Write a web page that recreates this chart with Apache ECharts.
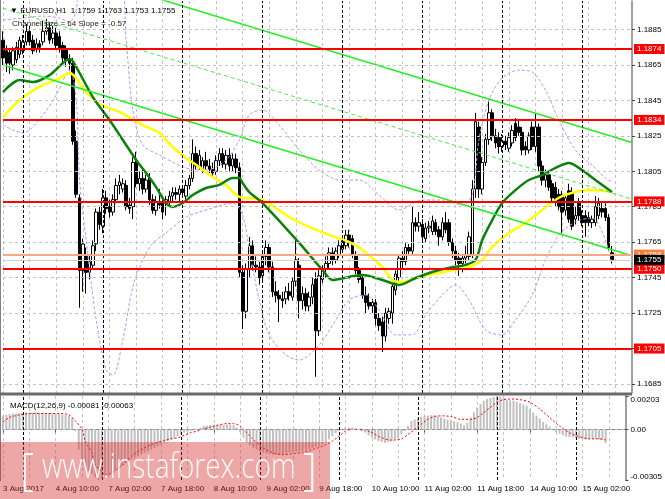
<!DOCTYPE html>
<html><head><meta charset="utf-8">
<script src="https://cdn.jsdelivr.net/npm/echarts@6/dist/echarts.min.js"></script>
<style>html,body{margin:0;padding:0;background:#fff}#c{width:665px;height:499px}</style>
</head><body><div id="c"></div>
<script>
// ---------------- data ----------------
const symbolInfo = '\u25BC EURUSD,H1  1.1759 1.1763 1.1753 1.1755';
const channelInfo = 'Channel size = 64 Slope = -0.57';
const macdInfo = 'MACD(12,26,9) -0.00081 -0.00063';
const timeLabels = ['3 Aug 2017','4 Aug 10:00','7 Aug 02:00','7 Aug 18:00','8 Aug 10:00','9 Aug 02:00','9 Aug 18:00','10 Aug 10:00','11 Aug 02:00','11 Aug 18:00','14 Aug 10:00','15 Aug 02:00'];
const priceTicks = [1.1885,1.1865,1.1845,1.1825,1.1805,1.1785,1.1765,1.1745,1.1725,1.1705,1.1685];
const macdTicks = [0.00203,0,-0.00305];
const daySeparators = [6,30,54,78,102,126,150,174];
const redLevels = [1.1874,1.1834,1.1788,1.1750,1.1705];
const askLevel = 1.1758;
const bidLevel = 1.1755;
// [open, high, low, close] per H1 bar, 3 Aug 18:00 .. 15 Aug 09:00
const candles = [
[1.1879,1.1884,1.1865,1.1869],[1.1873,1.1876,1.1861,1.1866],[1.1872,1.1874,1.1860,1.1866],[1.1865,1.1875,1.1862,1.1873],[1.1868,1.1878,1.1866,1.1875],
[1.1871,1.1881,1.1869,1.1879],[1.1873,1.1882,1.1871,1.1878],[1.1878,1.1888,1.1876,1.1884],[1.1884,1.1887,1.1876,1.1878],[1.1879,1.1882,1.1871,1.1873],
[1.1874,1.1880,1.1872,1.1877],[1.1877,1.1879,1.1872,1.1875],[1.1878,1.1890,1.1876,1.1884],[1.1884,1.1891,1.1882,1.1886],[1.1886,1.1889,1.1877,1.1879],
[1.1880,1.1887,1.1877,1.1883],[1.1883,1.1886,1.1874,1.1876],[1.1881,1.1884,1.1872,1.1874],[1.1876,1.1878,1.1866,1.1869],[1.1874,1.1876,1.1864,1.1868],
[1.1868,1.1871,1.1862,1.1866],[1.1866,1.1869,1.1820,1.1822],[1.1822,1.1828,1.1790,1.1792],[1.1790,1.1792,1.1728,1.1749],[1.1749,1.1767,1.1737,1.1764],
[1.1758,1.1762,1.1736,1.1748],[1.1748,1.1758,1.1744,1.1754],[1.1752,1.1766,1.1750,1.1763],[1.1764,1.1784,1.1760,1.1782],[1.1782,1.1785,1.1772,1.1775],
[1.1774,1.1795,1.1770,1.1790],[1.1790,1.1794,1.1781,1.1784],[1.1785,1.1789,1.1779,1.1782],[1.1782,1.1792,1.1780,1.1789],[1.1789,1.1801,1.1787,1.1797],
[1.1797,1.1803,1.1792,1.1799],[1.1795,1.1801,1.1793,1.1798],[1.1797,1.1800,1.1783,1.1785],[1.1786,1.1790,1.1781,1.1784],[1.1785,1.1813,1.1778,1.1810],
[1.1810,1.1816,1.1796,1.1798],[1.1798,1.1805,1.1794,1.1801],[1.1801,1.1806,1.1792,1.1795],[1.1795,1.1803,1.1793,1.1800],[1.1801,1.1804,1.1786,1.1789],
[1.1789,1.1792,1.1781,1.1783],[1.1783,1.1791,1.1780,1.1788],[1.1788,1.1795,1.1784,1.1786],[1.1787,1.1789,1.1778,1.1782],[1.1787,1.1791,1.1780,1.1789],
[1.1788,1.1794,1.1786,1.1791],[1.1791,1.1796,1.1788,1.1793],[1.1793,1.1796,1.1789,1.1792],[1.1792,1.1797,1.1788,1.1795],[1.1795,1.1797,1.1790,1.1793],
[1.1791,1.1800,1.1789,1.1797],[1.1797,1.1803,1.1795,1.1801],[1.1801,1.1823,1.1799,1.1815],[1.1815,1.1819,1.1806,1.1808],[1.1808,1.1817,1.1806,1.1814],
[1.1806,1.1813,1.1804,1.1811],[1.1811,1.1816,1.1806,1.1808],[1.1808,1.1812,1.1803,1.1806],[1.1806,1.1810,1.1802,1.1804],[1.1805,1.1814,1.1803,1.1811],
[1.1811,1.1818,1.1808,1.1815],[1.1815,1.1818,1.1807,1.1809],[1.1809,1.1817,1.1806,1.1814],[1.1814,1.1818,1.1805,1.1808],[1.1808,1.1815,1.1805,1.1812],
[1.1812,1.1815,1.1804,1.1807],[1.1807,1.1810,1.1745,1.1748],[1.1748,1.1752,1.1716,1.1726],[1.1726,1.1753,1.1722,1.1750],[1.1750,1.1768,1.1745,1.1763],
[1.1763,1.1766,1.1749,1.1752],[1.1752,1.1757,1.1748,1.1751],[1.1751,1.1754,1.1741,1.1745],[1.1746,1.1760,1.1743,1.1757],[1.1757,1.1766,1.1752,1.1762],
[1.1762,1.1764,1.1748,1.1751],[1.1751,1.1754,1.1734,1.1737],[1.1737,1.1743,1.1731,1.1735],[1.1735,1.1738,1.1720,1.1733],[1.1733,1.1737,1.1728,1.1732],
[1.1733,1.1740,1.1730,1.1737],[1.1737,1.1742,1.1732,1.1735],[1.1734,1.1745,1.1732,1.1743],[1.1743,1.1766,1.1740,1.1755],[1.1752,1.1756,1.1722,1.1732],
[1.1732,1.1740,1.1727,1.1736],[1.1736,1.1739,1.1726,1.1729],[1.1729,1.1737,1.1726,1.1734],[1.1734,1.1745,1.1730,1.1741],[1.1744,1.1748,1.1689,1.1715],
[1.1715,1.1750,1.1712,1.1746],[1.1744,1.1752,1.1742,1.1750],[1.1750,1.1757,1.1745,1.1753],[1.1753,1.1762,1.1750,1.1759],[1.1759,1.1762,1.1752,1.1755],
[1.1755,1.1762,1.1753,1.1760],[1.1758,1.1766,1.1756,1.1763],[1.1761,1.1768,1.1759,1.1766],[1.1763,1.1772,1.1761,1.1769],[1.1769,1.1772,1.1762,1.1765],
[1.1767,1.1769,1.1756,1.1758],[1.1758,1.1760,1.1747,1.1749],[1.1749,1.1751,1.1742,1.1744],[1.1745,1.1747,1.1733,1.1735],[1.1735,1.1740,1.1725,1.1731],
[1.1731,1.1736,1.1727,1.1729],[1.1729,1.1733,1.1725,1.1731],[1.1731,1.1733,1.1718,1.1722],[1.1722,1.1725,1.1715,1.1718],[1.1720,1.1723,1.1703,1.1712],
[1.1712,1.1728,1.1709,1.1725],[1.1722,1.1728,1.1719,1.1726],[1.1725,1.1742,1.1719,1.1740],[1.1738,1.1749,1.1735,1.1747],[1.1745,1.1758,1.1743,1.1756],
[1.1756,1.1760,1.1750,1.1754],[1.1754,1.1765,1.1752,1.1762],[1.1762,1.1764,1.1758,1.1760],[1.1760,1.1785,1.1758,1.1776],[1.1776,1.1779,1.1771,1.1774],
[1.1774,1.1782,1.1771,1.1776],[1.1775,1.1778,1.1766,1.1768],[1.1767,1.1776,1.1765,1.1773],[1.1773,1.1777,1.1770,1.1774],[1.1771,1.1780,1.1769,1.1777],
[1.1776,1.1778,1.1769,1.1771],[1.1772,1.1774,1.1763,1.1768],[1.1768,1.1779,1.1766,1.1776],[1.1776,1.1782,1.1770,1.1772],[1.1776,1.1778,1.1763,1.1765],
[1.1765,1.1767,1.1756,1.1760],[1.1760,1.1763,1.1752,1.1755],[1.1756,1.1759,1.1746,1.1753],[1.1753,1.1758,1.1748,1.1756],[1.1756,1.1763,1.1753,1.1758],
[1.1757,1.1771,1.1755,1.1768],[1.1758,1.1800,1.1756,1.1795],[1.1795,1.1838,1.1790,1.1833],[1.1830,1.1833,1.1790,1.1795],[1.1795,1.1813,1.1792,1.1810],
[1.1810,1.1826,1.1808,1.1823],[1.1823,1.1845,1.1820,1.1838],[1.1838,1.1840,1.1822,1.1825],[1.1825,1.1829,1.1818,1.1821],[1.1824,1.1827,1.1815,1.1819],
[1.1819,1.1826,1.1816,1.1822],[1.1822,1.1825,1.1817,1.1820],[1.1818,1.1827,1.1816,1.1824],[1.1821,1.1831,1.1819,1.1828],[1.1832,1.1835,1.1822,1.1824],
[1.1830,1.1834,1.1825,1.1827],[1.1827,1.1830,1.1814,1.1817],[1.1819,1.1822,1.1814,1.1817],[1.1817,1.1827,1.1815,1.1825],[1.1830,1.1833,1.1817,1.1819],
[1.1819,1.1838,1.1816,1.1830],[1.1830,1.1832,1.1805,1.1808],[1.1808,1.1811,1.1797,1.1800],[1.1800,1.1806,1.1796,1.1803],[1.1803,1.1805,1.1794,1.1796],
[1.1798,1.1800,1.1788,1.1790],[1.1796,1.1799,1.1785,1.1788],[1.1792,1.1795,1.1783,1.1785],[1.1791,1.1794,1.1770,1.1782],[1.1783,1.1792,1.1780,1.1790],
[1.1794,1.1798,1.1776,1.1778],[1.1793,1.1796,1.1772,1.1774],[1.1778,1.1785,1.1775,1.1780],[1.1787,1.1790,1.1777,1.1780],[1.1780,1.1783,1.1774,1.1776],
[1.1780,1.1783,1.1768,1.1776],[1.1779,1.1782,1.1774,1.1776],[1.1776,1.1780,1.1773,1.1778],[1.1776,1.1791,1.1774,1.1785],[1.1780,1.1790,1.1778,1.1787],
[1.1784,1.1787,1.1779,1.1782],[1.1784,1.1787,1.1777,1.1779],[1.1779,1.1781,1.1760,1.1762],[1.1759,1.1763,1.1753,1.1755]
];
const macdHist = [
0.00083,0.00088,0.00093,0.00097,0.00099,0.00100,0.00101,0.00102,0.00103,0.00103,
0.00103,0.00102,0.00101,0.00100,0.00099,0.00097,0.00095,0.00093,0.00090,0.00087,
0.00082,0.00070,-0.00010,-0.00120,-0.00180,-0.00225,-0.00250,-0.00265,-0.00290,-0.00305,
-0.00293,-0.00285,-0.00280,-0.00263,-0.00248,-0.00233,-0.00218,-0.00203,-0.00193,-0.00182,
-0.00172,-0.00162,-0.00152,-0.00142,-0.00132,-0.00121,-0.00111,-0.00101,-0.00091,-0.00080,
-0.00070,-0.00060,-0.00050,-0.00040,-0.00030,-0.00019,-0.00014,-0.00009,-0.00004,0.00001,
0.00010,0.00021,0.00024,0.00027,0.00027,0.00028,0.00028,0.00028,0.00030,0.00030,
0.00028,0.00013,-0.00017,-0.00048,-0.00078,-0.00094,-0.00109,-0.00121,-0.00133,-0.00140,
-0.00146,-0.00149,-0.00152,-0.00152,-0.00152,-0.00149,-0.00146,-0.00141,-0.00138,-0.00135,
-0.00132,-0.00129,-0.00125,-0.00118,-0.00111,-0.00106,-0.00101,-0.00091,-0.00080,-0.00060,
-0.00040,-0.00023,-0.00009,0.00001,0.00012,0.00012,0.00012,0.00007,0.00001,-0.00009,
-0.00019,-0.00035,-0.00050,-0.00060,-0.00070,-0.00075,-0.00080,-0.00075,-0.00070,-0.00060,
-0.00050,-0.00029,-0.00009,0.00021,0.00052,0.00062,0.00073,0.00078,0.00083,0.00085,
0.00087,0.00087,0.00080,0.00073,0.00066,0.00060,0.00056,0.00050,0.00044,0.00036,
0.00026,0.00042,0.00073,0.00104,0.00134,0.00154,0.00174,0.00185,0.00191,0.00196,
0.00203,0.00200,0.00190,0.00181,0.00177,0.00174,0.00168,0.00160,0.00152,0.00144,
0.00124,0.00103,0.00083,0.00067,0.00046,0.00032,0.00018,0.00001,-0.00015,-0.00025,
-0.00035,-0.00043,-0.00045,-0.00046,-0.00051,-0.00056,-0.00058,-0.00060,-0.00058,-0.00056,
-0.00058,-0.00060,-0.00062,-0.00081
];
// [bar index, value]
const macdSignal = [[0,0.00046],[2,0.00073],[5,0.00089],[9,0.00097],[13,0.00097],[17,0.00097],[20,0.00089],[22,0.00052],[24,0.00001],[25,-0.00070],[27,-0.00141],[28,-0.00213],[30,-0.00254],[31,-0.00274],[33,-0.00264],[35,-0.00233],[37,-0.00203],[39,-0.00162],[41,-0.00132],[43,-0.00111],[45,-0.00091],[47,-0.00077],[49,-0.00066],[51,-0.00056],[53,-0.00050],[55,-0.00035],[57,-0.00019],[59,-0.00009],[61,0.00006],[63,0.00015],[65,0.00026],[68,0.00036],[70,0.00036],[72,0.00021],[74,-0.00019],[76,-0.00060],[79,-0.00111],[82,-0.00141],[85,-0.00152],[88,-0.00146],[91,-0.00138],[94,-0.00121],[97,-0.00101],[100,-0.00070],[102,-0.00040],[104,-0.00009],[106,0.00001],[109,0.00001],[112,-0.00019],[115,-0.00050],[118,-0.00064],[121,-0.00056],[123,-0.00029],[125,0.00001],[127,0.00032],[129,0.00062],[131,0.00079],[133,0.00083],[136,0.00079],[139,0.00062],[142,0.00062],[144,0.00073],[146,0.00103],[148,0.00134],[150,0.00165],[152,0.00181],[154,0.00185],[157,0.00181],[160,0.00165],[163,0.00124],[166,0.00073],[169,0.00021],[172,-0.00019],[175,-0.00043],[178,-0.00056],[181,-0.00056],[183,-0.00063]];
const maGreen = [[0,1.18497],[5,1.18565],[9,1.18554],[14,1.18593],[18,1.18661],[20,1.18684],[21,1.18672],[27,1.18469],[32,1.18339],[36,1.18227],[40,1.18114],[43,1.18040],[46,1.17961],[49,1.17871],[51,1.17849],[54,1.17871],[57,1.17916],[61,1.17956],[65,1.17973],[69,1.18012],[71,1.18012],[72,1.17984],[74,1.17933],[78,1.17871],[89,1.17646],[96,1.17493],[99,1.17437],[104,1.17454],[108,1.17465],[114,1.17437],[119,1.17409],[124,1.17448],[129,1.17482],[134,1.17505],[139,1.17522],[142,1.17550],[144,1.17662],[147,1.17775],[150,1.17871],[154,1.17944],[158,1.18001],[162,1.18029],[166,1.18069],[170,1.18097],[174,1.18057],[178,1.18001],[183,1.17933]];
const maYellow = [[0,1.18356],[5,1.18452],[11,1.18526],[17,1.18576],[20,1.18605],[25,1.18497],[29,1.18430],[35,1.18385],[42,1.18311],[47,1.18266],[51,1.18187],[55,1.18125],[59,1.18074],[63,1.18018],[67,1.17973],[71,1.17905],[73,1.17900],[78,1.17888],[86,1.17792],[92,1.17736],[98,1.17691],[104,1.17651],[108,1.17606],[114,1.17510],[117,1.17437],[120,1.17426],[125,1.17454],[131,1.17476],[137,1.17499],[141,1.17516],[144,1.17550],[147,1.17623],[152,1.17702],[157,1.17758],[162,1.17832],[167,1.17900],[172,1.17933],[177,1.17944],[183,1.17933]];
const bandUpper = [[0,1.18904],[6,1.18915],[12,1.18926],[17,1.18915],[20,1.18892],[22,1.18960],[23,1.19129],[35,1.19129],[37,1.18791],[39,1.18396],[42,1.18199],[47,1.18142],[55,1.18069],[61,1.18057],[67,1.18114],[71,1.18227],[74,1.18368],[78,1.18396],[83,1.18311],[89,1.18170],[95,1.18057],[101,1.18001],[107,1.18001],[113,1.17916],[119,1.17832],[126,1.17888],[132,1.17888],[138,1.17860],[141,1.17916],[143,1.18227],[146,1.18452],[150,1.18576],[155,1.18621],[159,1.18610],[163,1.18509],[167,1.18339],[172,1.18170],[177,1.18085],[181,1.18012],[183,1.17990]];
const bandLower = [[0,1.18311],[6,1.18266],[12,1.18368],[16,1.18481],[20,1.18622],[22,1.18452],[23,1.18001],[25,1.17662],[28,1.17211],[31,1.16929],[33,1.16900],[36,1.17098],[39,1.17397],[42,1.17549],[45,1.17645],[49,1.17702],[55,1.17792],[59,1.17820],[64,1.17849],[69,1.17871],[72,1.17803],[74,1.17606],[77,1.17324],[80,1.17127],[85,1.17014],[89,1.16985],[95,1.17070],[100,1.17211],[104,1.17324],[109,1.17352],[113,1.17267],[118,1.17127],[123,1.17127],[127,1.17239],[132,1.17352],[136,1.17409],[140,1.17324],[145,1.17155],[150,1.17127],[154,1.17211],[159,1.17352],[163,1.17549],[167,1.17690],[172,1.17764],[177,1.17787],[181,1.17662],[183,1.17522]];
// regression channel: price at first bar and at right edge
const channelLower = [[0,1.18650],[189,1.17573]];
const channelMiddle = [[0,1.18970],[189,1.17893]];
const channelUpper = [[0,1.19290],[189,1.18213]];

// ---------------- chart ----------------
const FONT = '"Liberation Sans", Arial, sans-serif';
const cats = Array.from({length: 190}, (_, i) => String(i));
const labelEvery = 16, gridEvery = 8;
const fmt4 = v => v.toFixed(4);

const hLine = (v, color, width, bg) => ({
  yAxis: v,
  lineStyle: {color: color, width: width, type: 'solid'},
  label: {show: true, position: 'end', distance: 2, formatter: () => fmt4(v),
          backgroundColor: bg, color: '#fff', fontSize: 8, fontFamily: FONT,
          lineHeight: 9, padding: [1, 3, 0, 3]}
});

const option = {
  animation: false,
  backgroundColor: '#fff',
  grid: [
    {left: 3, top: 1, width: 629, height: 392},
    {left: 3, top: 396, width: 629, height: 84}
  ],
  xAxis: [
    {gridIndex: 0, type: 'category', data: cats, boundaryGap: false,
     axisLine: {show: false}, axisTick: {show: false}, axisLabel: {show: false},
     splitLine: {show: true, interval: i => i % gridEvery === 0, lineStyle: {color: '#c4c4c4', type: [3, 3], width: 1}}},
    {gridIndex: 1, type: 'category', data: cats, boundaryGap: false,
     axisLine: {show: true, lineStyle: {color: '#808080', width: 1}},
     axisTick: {show: true, interval: i => i % labelEvery === 0, length: 3, lineStyle: {color: '#606060'}},
     axisLabel: {show: true, interval: i => i % labelEvery === 0 && i / labelEvery < timeLabels.length,
                 formatter: (v, i) => timeLabels[Math.round(Number(v) / labelEvery)] || '',
                 align: 'left', fontSize: 8, fontFamily: FONT, color: '#000', margin: 5},
     splitLine: {show: true, interval: i => i % gridEvery === 0, lineStyle: {color: '#c4c4c4', type: [3, 3], width: 1}}}
  ],
  yAxis: [
    {gridIndex: 0, type: 'value', position: 'right', min: 1.16799, max: 1.19011,
     splitLine: {show: false},
     axisLine: {show: true, lineStyle: {color: '#808080', width: 1.5}},
     axisTick: {show: true, customValues: priceTicks, length: 3, lineStyle: {color: '#404040'}},
     axisLabel: {customValues: priceTicks, formatter: fmt4, fontSize: 8, fontFamily: FONT, color: '#000', margin: 5}},
    {gridIndex: 1, type: 'value', position: 'right', min: -0.00305, max: 0.00203,
     splitLine: {show: false},
     axisLine: {show: true, lineStyle: {color: '#808080', width: 1.5}},
     axisTick: {show: true, customValues: macdTicks, length: 3, lineStyle: {color: '#404040'}},
     axisLabel: {customValues: macdTicks, fontSize: 8, fontFamily: FONT, color: '#000', margin: 5,
       formatter: v => v === 0 ? '{m|0.00}' : (v > 0 ? '{t|' + v.toFixed(5) + '}' : '{b|' + v.toFixed(5) + '}'),
       rich: {t: {padding: [8, 0, 0, 0], fontSize: 8, fontFamily: FONT},
              b: {padding: [0, 0, 6, 0], fontSize: 8, fontFamily: FONT},
              m: {fontSize: 8, fontFamily: FONT}}}}
  ],
  title: [
    {text: symbolInfo, left: 5, top: 2, textStyle: {fontSize: 8, fontWeight: 'normal', color: '#000', fontFamily: FONT}},
    {text: channelInfo, left: 7, top: 15, textStyle: {fontSize: 8, fontWeight: 'normal', color: '#222', fontFamily: FONT}},
    {text: macdInfo, left: 5, top: 397, textStyle: {fontSize: 8, fontWeight: 'normal', color: '#000', fontFamily: FONT}}
  ],
  series: [
    // horizontal grid
    {type: 'line', xAxisIndex: 0, yAxisIndex: 0, data: [], z: 1, silent: true,
     markLine: {silent: true, precision: 5, symbol: ['none', 'none'], label: {show: false},
                lineStyle: {color: '#c4c4c4', type: [3, 3], width: 1},
                data: priceTicks.map(v => ({yAxis: v}))}},
    // day separators (main)
    {type: 'line', xAxisIndex: 0, yAxisIndex: 0, data: [], z: 1, silent: true,
     markLine: {silent: true, symbol: ['none', 'none'], label: {show: false},
                lineStyle: {color: '#000', type: [3, 2], width: 1},
                data: daySeparators.map(i => ({xAxis: String(i)}))}},
    // candles
    {type: 'candlestick', xAxisIndex: 0, yAxisIndex: 0, z: 2, barWidth: 3, clip: false,
     data: candles.map(c => [c[0], c[3], c[2], c[1]]),
     itemStyle: {color: '#ffffff', color0: '#000000', borderColor: '#000000', borderColor0: '#000000', borderWidth: 1}},
    // bands
    {type: 'line', xAxisIndex: 0, yAxisIndex: 0, z: 3, data: bandUpper, showSymbol: false, smooth: 0.3,
     lineStyle: {color: '#c48ef0', width: 1, type: [3, 2]}},
    {type: 'line', xAxisIndex: 0, yAxisIndex: 0, z: 3, data: bandLower, showSymbol: false, smooth: 0.3,
     lineStyle: {color: '#c48ef0', width: 1, type: [3, 2]}},
    // moving averages
    {type: 'line', xAxisIndex: 0, yAxisIndex: 0, z: 3, data: maYellow, showSymbol: false, smooth: 0.3,
     lineStyle: {color: '#ffff00', width: 2.5}},
    {type: 'line', xAxisIndex: 0, yAxisIndex: 0, z: 3, data: maGreen, showSymbol: false, smooth: 0.3,
     lineStyle: {color: '#0a820a', width: 2.5}},
    // channel
    {type: 'line', xAxisIndex: 0, yAxisIndex: 0, z: 4, data: channelUpper, showSymbol: false,
     lineStyle: {color: '#22ee22', width: 1.5}},
    {type: 'line', xAxisIndex: 0, yAxisIndex: 0, z: 4, data: channelMiddle, showSymbol: false,
     lineStyle: {color: '#44ee44', width: 1, type: [4, 3]}},
    {type: 'line', xAxisIndex: 0, yAxisIndex: 0, z: 4, data: channelLower, showSymbol: false,
     lineStyle: {color: '#22ee22', width: 1.5}},
    // horizontal levels
    {type: 'line', xAxisIndex: 0, yAxisIndex: 0, data: [], z: 5, silent: true,
     markLine: {silent: true, precision: 5, symbol: ['none', 'none'],
                data: redLevels.map(v => hLine(v, '#ff0000', 2, '#ff0000'))}},
    {type: 'line', xAxisIndex: 0, yAxisIndex: 0, data: [], z: 5, silent: true,
     markLine: {silent: true, precision: 5, symbol: ['none', 'none'],
                data: [hLine(askLevel, '#f8a882', 2, '#f7803f')]}},
    {type: 'line', xAxisIndex: 0, yAxisIndex: 0, data: [], z: 6, silent: true,
     markLine: {silent: true, precision: 5, symbol: ['none', 'none'],
                data: [hLine(bidLevel, '#cfcfcf', 1, '#000000')]}},
    // MACD
    {type: 'line', xAxisIndex: 1, yAxisIndex: 1, data: [], z: 1, silent: true,
     markLine: {silent: true, precision: 6, symbol: ['none', 'none'], label: {show: false},
                data: [{yAxis: 0, lineStyle: {color: '#c0c0c0', type: [3, 3], width: 1}}]
                  .concat(daySeparators.map(i => ({xAxis: String(i), lineStyle: {color: '#000', type: [3, 2], width: 1}})))}},
    {type: 'bar', xAxisIndex: 1, yAxisIndex: 1, z: 2, data: macdHist, barWidth: 2,
     itemStyle: {color: '#c0c0c0'}},
    {type: 'line', xAxisIndex: 1, yAxisIndex: 1, z: 3, data: macdSignal, showSymbol: false, smooth: 0.3,
     lineStyle: {color: '#ff0000', width: 1, type: [2, 2]}}
  ],
  graphic: [
    {type: 'line', z: 50, shape: {x1: 0.5, y1: 0, x2: 0.5, y2: 481}, style: {stroke: '#808080', lineWidth: 1}},
    {type: 'rect', z: 50, shape: {x: 0, y: 392.5, width: 632, height: 3}, style: {fill: '#6a6a6a'}},
    {type: 'rect', z: 100, shape: {x: 0, y: 442, width: 330, height: 57}, style: {fill: 'rgba(215,45,45,0.42)'}},
    {type: 'text', z: 101, x: 20, y: 472, style: {text: '[', fill: 'rgba(255,255,255,0.9)', font: '300 44px "Open Sans", sans-serif', verticalAlign: 'middle'}},
    {type: 'text', z: 101, x: 42, y: 468, scaleX: 0.8, style: {text: 'www.instaforex.com', fill: 'rgba(255,255,255,0.92)', font: '300 35px "Open Sans", sans-serif', verticalAlign: 'middle'}},
    {type: 'text', z: 101, x: 303, y: 472, style: {text: ']', fill: 'rgba(255,255,255,0.9)', font: '300 44px "Open Sans", sans-serif', verticalAlign: 'middle'}}
  ]
};

const chart = echarts.init(document.getElementById('c'), null, {renderer: 'canvas'});
chart.setOption(option);
</script>
</body></html>
